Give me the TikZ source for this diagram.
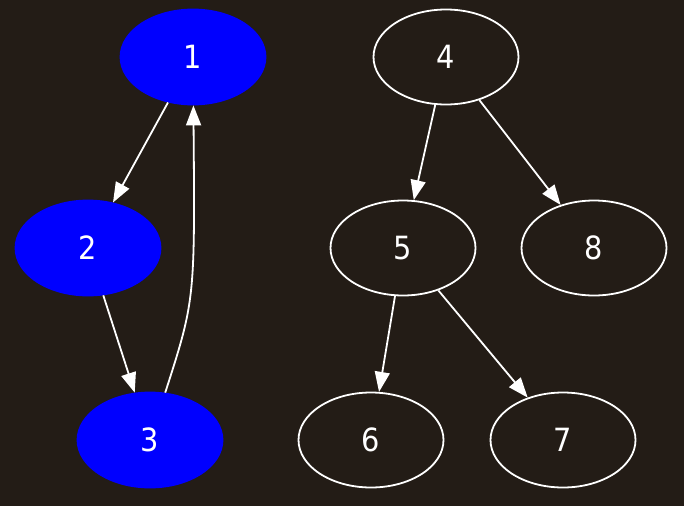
\documentclass[tikz,border=0pt]{standalone}
\usepackage{fontspec}
\setmainfont{DejaVu Sans Condensed}
\usetikzlibrary{shapes.geometric,arrows.meta}
\definecolor{bg}{HTML}{231C16}
\begin{document}
\begin{tikzpicture}[x=1pt,y=-1pt,
  nd/.style={ellipse,draw=white,line width=1.8pt,minimum width=145pt,minimum height=95pt,inner sep=0pt,text=white,font=\fontsize{32}{34}\selectfont},
  bl/.style={nd,fill=blue,draw=blue},
  ed/.style={draw=white,line width=1.8pt,-{Triangle[length=20pt,width=15pt]}}]
\fill[bg] (0,0) rectangle (684,506);
\useasboundingbox (0,0) rectangle (684,506);
\node[bl] (n1) at (193,57) {1};
\node[bl] (n2) at (88,248) {2};
\node[bl] (n3) at (150,440) {3};
\node[nd] (n4) at (446,57) {4};
\node[nd] (n5) at (403,248) {5};
\node[nd] (n8) at (594,248) {8};
\node[nd] (n6) at (371,440) {6};
\node[nd] (n7) at (563,440) {7};
\draw[ed] (n1) -- (n2);
\draw[ed] (n2) -- (n3);
\draw[ed] (n3) .. controls (195,300) .. (n1);
\draw[ed] (n4) -- (n5);
\draw[ed] (n4) -- (n8);
\draw[ed] (n5) -- (n6);
\draw[ed] (n5) -- (n7);
\end{tikzpicture}
\end{document}
